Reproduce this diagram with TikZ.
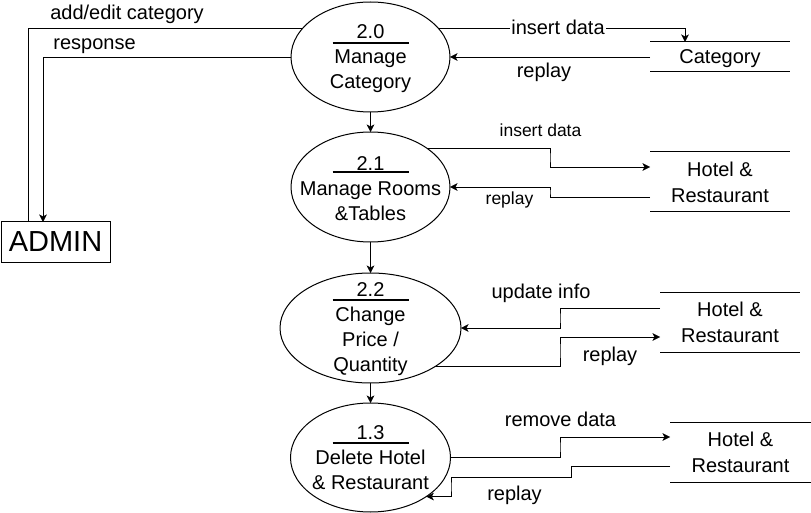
\documentclass[tikz,border=0pt]{standalone}
\usepackage{fontspec}
\setmainfont{Liberation Sans}
\usetikzlibrary{shapes.geometric,arrows.meta,backgrounds}
\begin{document}
\begin{tikzpicture}[x=1pt,y=-1pt,line width=1pt,
  flow/.style={-{Stealth[length=7.5pt,width=7.5pt,inset=2pt]}},
  proc/.style={ellipse,draw,fill=white,inner sep=0pt,outer sep=0pt},
  ptext/.style={align=center,inner sep=0pt,font=\fontsize{20}{25}\selectfont},
  store/.style={minimum width=140pt,minimum height=60pt,inner sep=0pt,outer sep=0pt,
    align=center,text depth=0pt,font=\fontsize{20}{26}\selectfont,
    append after command={(\tikzlastnode.north west) edge (\tikzlastnode.north east)
      (\tikzlastnode.south west) edge (\tikzlastnode.south east)}},
  lbl/.style={anchor=base,inner sep=0pt,font=\fontsize{20}{23}\selectfont},
  slbl/.style={anchor=base,inner sep=0pt,font=\fontsize{17.5}{21}\selectfont},
  bar/.style={line width=2pt}]
\useasboundingbox (0,0) rectangle (811,513);

% processes
\node[proc,minimum width=159pt,minimum height=110pt] (e20) at (370.5,57) {};
\node[proc,minimum width=159pt,minimum height=110pt] (e21) at (370.5,187) {};
\node[proc,minimum width=181pt,minimum height=110pt] (e22) at (370.5,328) {};
\node[proc,minimum width=160pt,minimum height=109pt] (e13) at (370.5,457.5) {};

\node[ptext] (t20) at ([yshift=-1.5pt]e20.center) {2.0\\Manage\\Category};
\node[ptext] (t21) at ([yshift=-1.5pt]e21.center) {2.1\\Manage Rooms\\\&Tables};
\node[ptext] (t22) at ([yshift=-1pt]e22.center) {2.2\\Change\\Price /\\Quantity};
\node[ptext] (t13) at (e13.center) {1.3\\Delete Hotel\\\& Restaurant};

\draw[bar] ([shift={(-38pt,14pt)}]e20.center) -- ++(76,0);
\draw[bar] ([shift={(-38pt,15pt)}]e21.center) -- ++(76,0);
\draw[bar] ([shift={(-38pt,28pt)}]e22.center) -- ++(76,0);
\draw[bar] ([shift={(-38pt,14.5pt)}]e13.center) -- ++(76,0);

% external entity
\node[draw,minimum width=109pt,minimum height=40pt,inner sep=0pt,outer sep=0pt,
  font=\fontsize{29}{31}\selectfont] (admin) at (55.5,242) {ADMIN};

% data stores
\node[store,minimum height=30pt] (cat) at (720,57) {Category};
\node[store] (st1) at (720,182) {Hotel \&\\Restaurant};
\node[store] (st2) at (730,322) {Hotel \&\\Restaurant};
\node[store,minimum width=141pt] (st3) at (740.5,452) {Hotel \&\\Restaurant};

% connectors
\begin{pgfonlayer}{background}
\draw ([xshift=-27.5pt]admin.north) |- ([yshift=29pt]e20.center);
\draw[flow] (e20.west) -| ([xshift=-12.5pt]admin.north);
\draw[flow] ([yshift=29pt]e20.center) -| ([xshift=-35pt]cat.north);
\draw[flow] (cat.west) -- (e20.east);
\draw[flow] (e20) -- (e21);
\draw[flow] (e21) -- (e22);
\draw[flow] (e22) -- (e13);
\draw[flow] ([yshift=39pt]e21.center) -| (550,157.5) |- ([yshift=15pt]st1.west);
\draw[flow] ([yshift=-15pt]st1.west) -| (550,192) |- (e21.east);
\draw[flow] ([yshift=14pt]st2.west) -| (560,318) |- (e22.east);
\draw[flow] ([yshift=-38pt]e22.center) -| (560,350) |- ([yshift=-15pt]st2.west);
\draw[flow] (e13.east) -| (560,447) |- ([yshift=15pt]st3.west);
\draw[flow] ([yshift=-14pt]st3.west) -| (571,477) -| (451,487) |- (e13.-35.6);
\end{pgfonlayer}

% labels
\node[lbl] (l1) at (127,19.5) {add/edit category};
\node[lbl] (l2) at (94.5,49.5) {response};
\node[lbl,fill=white,inner xsep=1pt] (l3) at (558,35) {insert data};
\node[lbl] (l4) at (544,78) {replay};
\node[slbl] (l5) at (540.5,137) {insert data};
\node[slbl] (l6) at (509.5,205) {replay};
\node[lbl] (l7) at (541,298.5) {update info};
\node[lbl] (l8) at (610,361.5) {replay};
\node[lbl] (l9) at (560.5,426.5) {remove data};
\node[lbl] (l10) at (514.5,500) {replay};
\end{tikzpicture}
\end{document}
